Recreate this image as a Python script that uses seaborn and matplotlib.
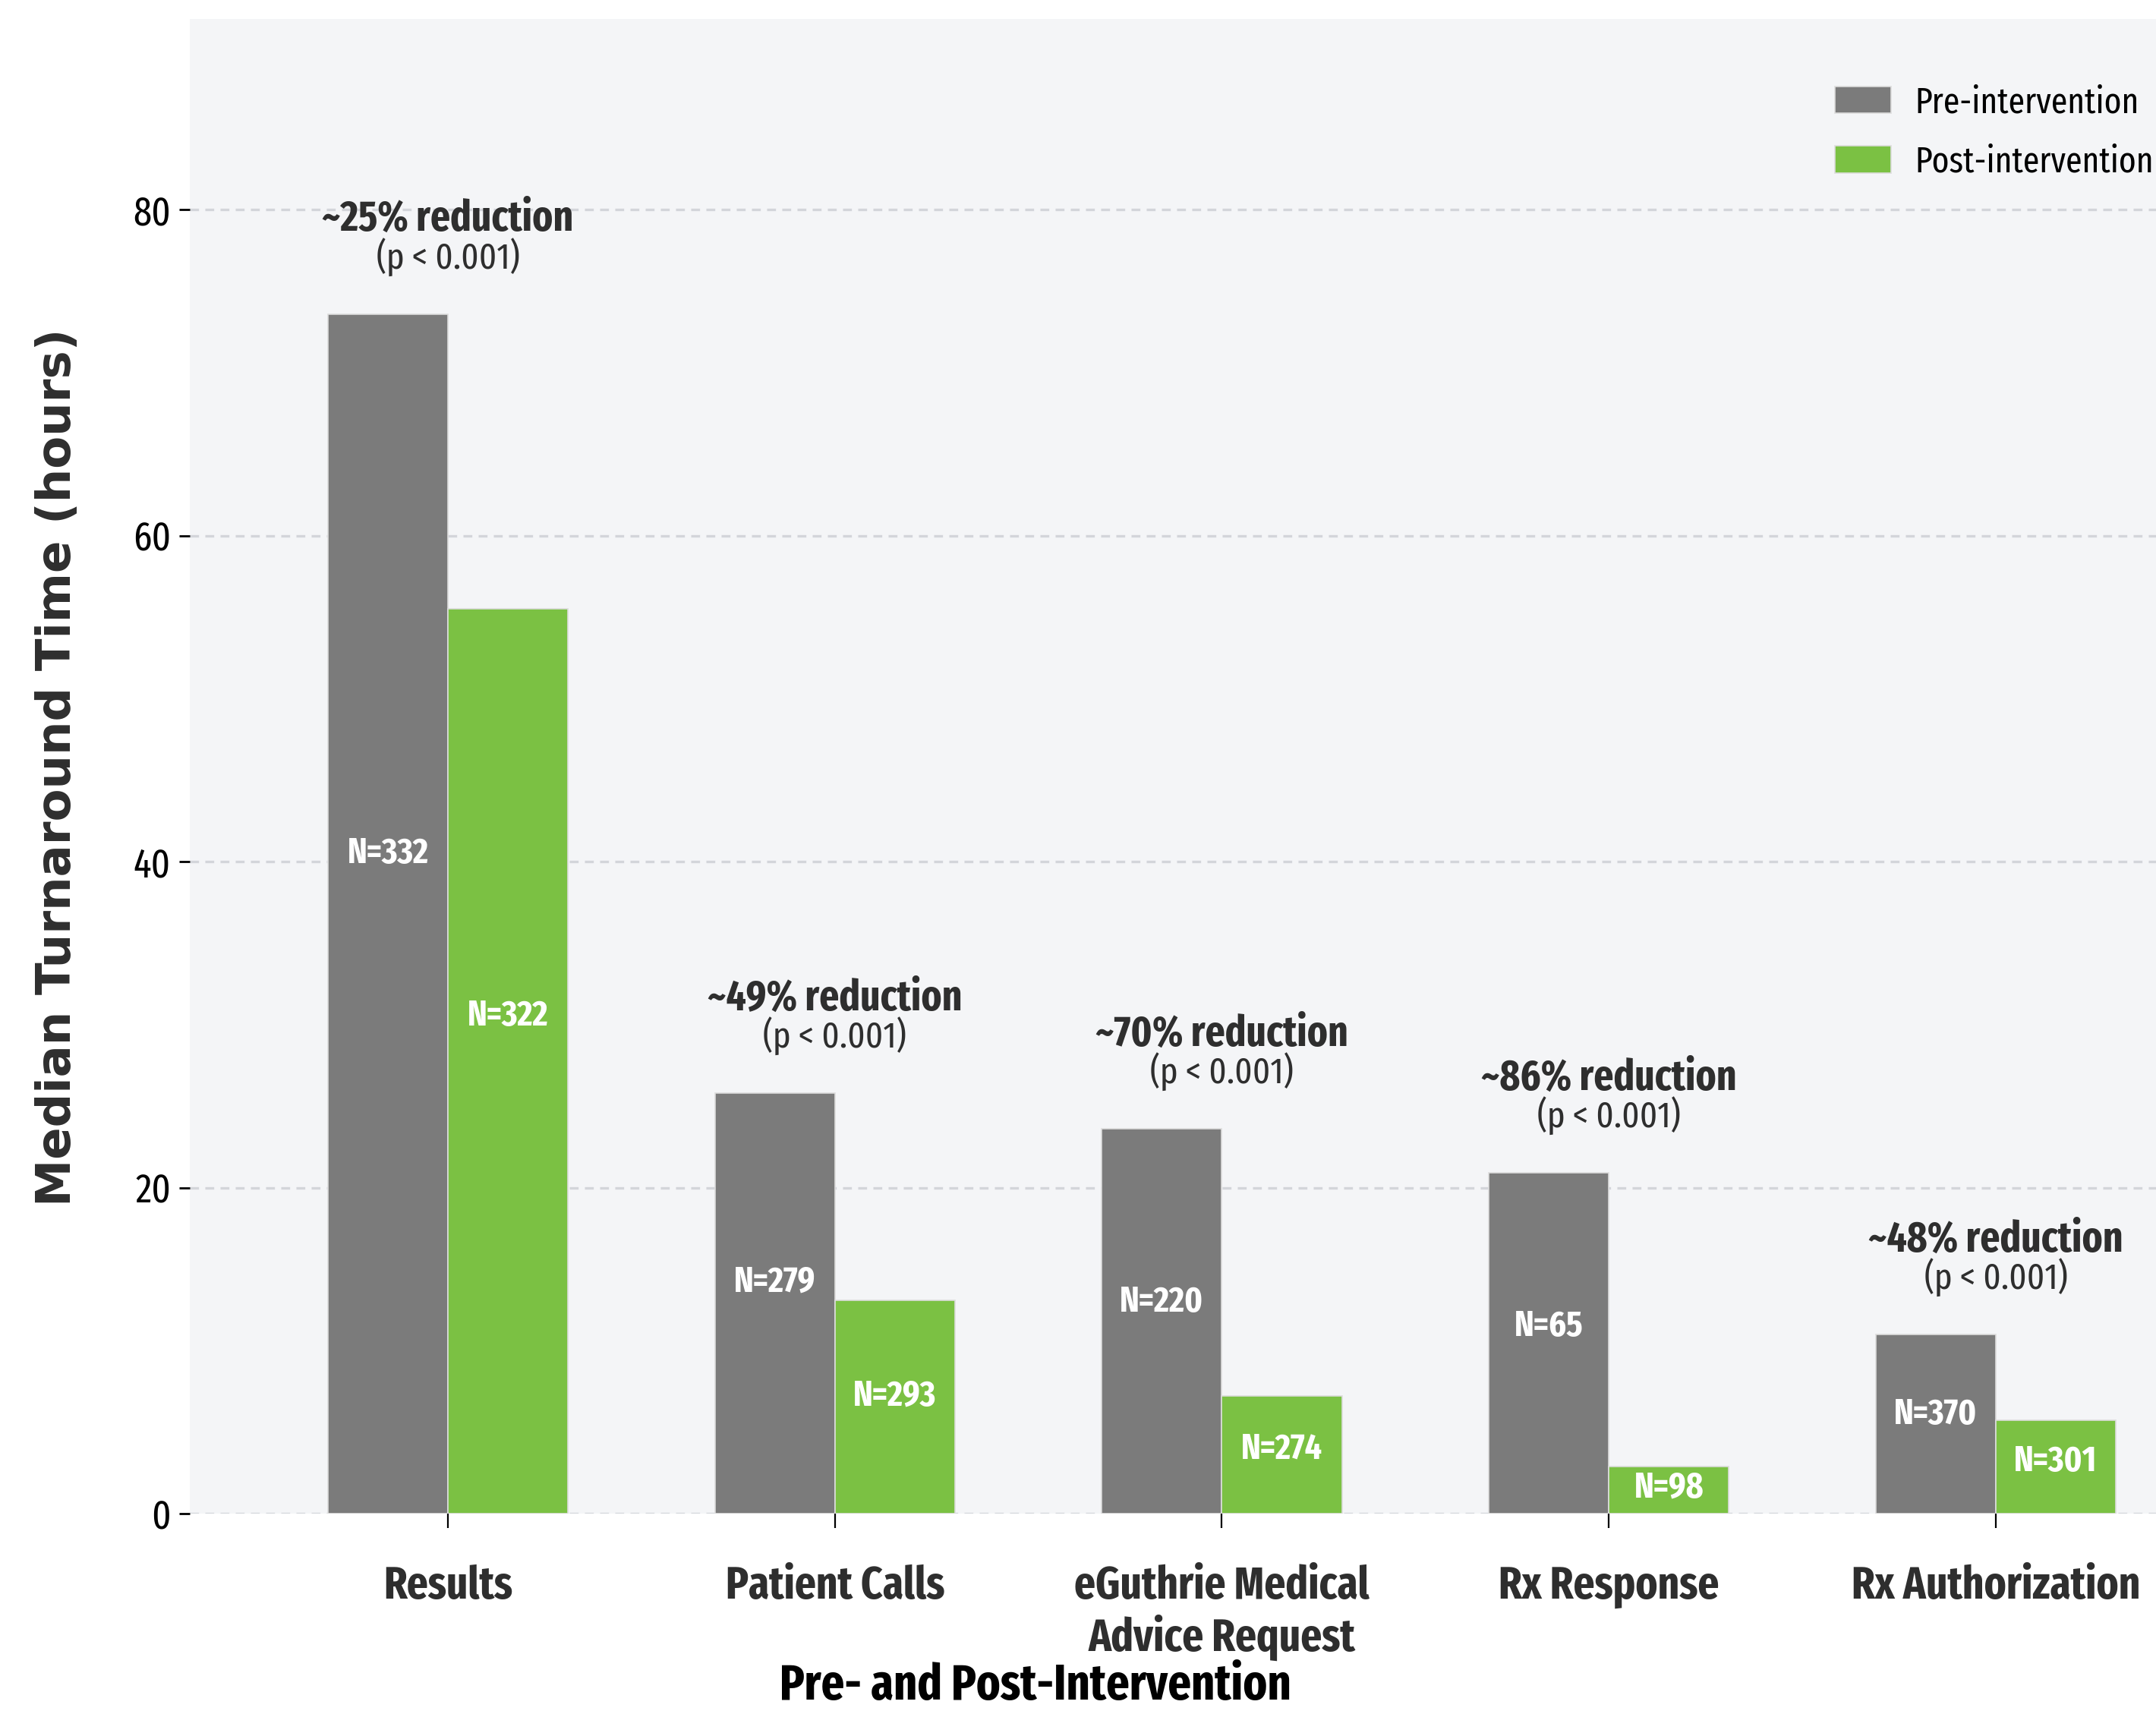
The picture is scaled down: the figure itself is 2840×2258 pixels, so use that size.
import matplotlib
matplotlib.use("Agg")
import matplotlib.pyplot as plt
import seaborn as sns
import pandas as pd

# ---- data -------------------------------------------------------------
categories = ["Results", "Patient Calls", "eGuthrie Medical\nAdvice Request",
              "Rx Response", "Rx Authorization"]
pre_hours = [73.6, 25.8, 23.6, 20.9, 11.0]
post_hours = [55.5, 13.1, 7.2, 2.9, 5.75]
pre_n = [332, 279, 220, 65, 370]
post_n = [322, 293, 274, 98, 301]
reductions = ["~25% reduction", "~49% reduction", "~70% reduction",
              "~86% reduction", "~48% reduction"]
p_values = ["(p < 0.001)"] * 5
periods = ["Pre-intervention", "Post-intervention"]
y_ticks = [0, 20, 40, 60, 80]

# ---- style ------------------------------------------------------------
sns.set_theme(style="white")
COND = ["Fira Sans Extra Condensed", "DejaVu Sans"]
plt.rcParams["font.family"] = COND
GRAY = "#7b7b7b"
GREEN = "#7bc143"
FACE = "#f4f5f7"
TXT = "#2e2e2e"

df = pd.DataFrame({
    "category": categories * 2,
    "hours": pre_hours + post_hours,
    "period": [periods[0]] * 5 + [periods[1]] * 5,
    "n": pre_n + post_n,
})

W, H = 2840, 2258
fig = plt.figure(figsize=(W / 200, H / 200), dpi=200)
ax = fig.add_axes([250 / W, 1 - 1994 / H, 1 - 250 / W, (1994 - 25) / H])
ax.set_facecolor(FACE)

sns.barplot(data=df, x="category", y="hours", hue="period",
            order=categories, hue_order=periods,
            palette=[GRAY, GREEN], saturation=1, width=0.62, errorbar=None,
            edgecolor="#dcdcdc", linewidth=0.6, ax=ax, zorder=3)

ax.set_xlim(-0.667, 4.414)
ax.set_ylim(0, 91.7)
ax.set_yticks(y_ticks)
ax.set_axisbelow(True)
ax.yaxis.grid(True, color="#d3d5da", linewidth=1.2, linestyle=(0, (3.5, 2.5)))
ax.xaxis.grid(False)
for s in ax.spines.values():
    s.set_visible(False)

ax.tick_params(axis="y", which="major", left=True, length=5, width=1.0,
               color="black", pad=4, labelsize=19, labelcolor="black")
ax.tick_params(axis="x", which="major", bottom=True, length=7, width=0.8,
               color="black", pad=17, labelsize=21.5, labelcolor=TXT)
for lab in ax.get_xticklabels():
    lab.set_fontweight("bold")
    lab.set_linespacing(1.15)

ax.set_xlabel("")
ax.set_ylabel("")
fig.text(76 / W, 1 - 1011 / H, "Median Turnaround Time (hours)",
         rotation=90, ha="center", va="center", fontsize=22.5,
         fontweight="bold", color=TXT, family="DejaVu Sans")
fig.text(1364 / W, 1 - 2222 / H, "Pre- and Post-Intervention",
         ha="center", va="center", fontsize=23.5, fontweight="bold",
         color="black")

# sample sizes inside the bars
for container, ns in zip(ax.containers, [pre_n, post_n]):
    for bar, n in zip(container, ns):
        ax.text(bar.get_x() + bar.get_width() / 2, bar.get_height() * 0.55,
                f"N={n}", ha="center", va="center", fontsize=17,
                fontweight="bold", color="white", zorder=5)

# reduction annotations above each group
for i, (red, p) in enumerate(zip(reductions, p_values)):
    top = max(pre_hours[i], post_hours[i])
    ax.text(i, top + 5.1, red, ha="center", va="baseline", fontsize=20,
            fontweight="bold", color=TXT, zorder=5)
    ax.text(i, top + 2.8, p, ha="center", va="baseline", fontsize=17.5,
            color=TXT, zorder=5)

handles, labels = ax.get_legend_handles_labels()
if ax.get_legend() is not None:
    ax.get_legend().remove()
fig.legend(handles, labels, loc="upper left",
           bbox_to_anchor=(2417 / W, 1 - 112 / H), bbox_transform=fig.transFigure,
           frameon=False, fontsize=17, borderpad=0, borderaxespad=0,
           handlelength=1.57, handleheight=0.78, handletextpad=0.66,
           labelspacing=0.68, labelcolor="black")

fig.savefig("out.png", dpi=200, facecolor="white")
